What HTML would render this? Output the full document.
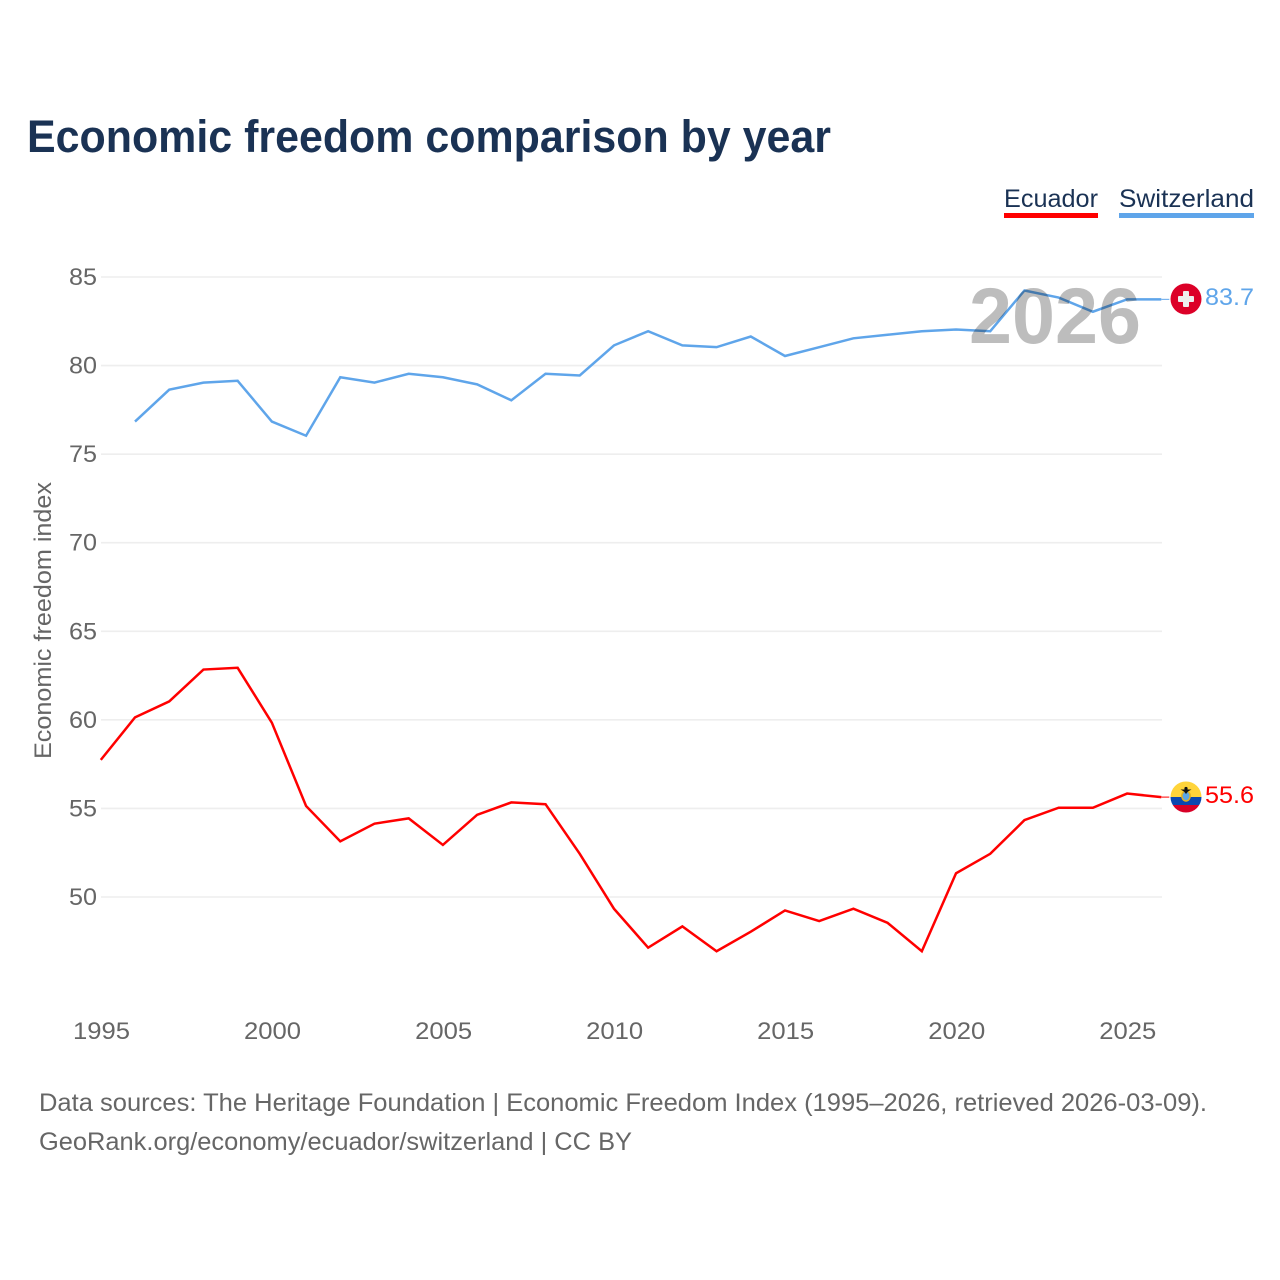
<!DOCTYPE html>
<html lang="en">
<head>
<meta charset="utf-8">
<title>Economic freedom comparison by year</title>
<style>
html,body{margin:0;padding:0;background:#fff;width:1280px;height:1280px;overflow:hidden}
svg{display:block}
text{font-family:"Liberation Sans",sans-serif}
</style>
</head>
<body>
<svg id="chart" xmlns="http://www.w3.org/2000/svg" width="1280" height="1280" viewBox="0 0 1280 1280">
  <rect width="1280" height="1280" fill="#fff"/>
  <text x="27" y="152" font-size="45" font-weight="700" fill="#1a3254" textLength="804" lengthAdjust="spacingAndGlyphs">Economic freedom comparison by year</text>

  <g>
    <text x="1004" y="207" font-size="25" fill="#1a3254" textLength="94" lengthAdjust="spacingAndGlyphs">Ecuador</text>
    <rect x="1004" y="213" width="94" height="5" fill="#ff0000"/>
  </g>
  <g>
    <text x="1119" y="207" font-size="25" fill="#1a3254" textLength="135" lengthAdjust="spacingAndGlyphs">Switzerland</text>
    <rect x="1119" y="213" width="135" height="5" fill="#5fa5ea"/>
  </g>

  <g id="grid"></g>
  <g id="yticks"></g>
  <g id="xticks"></g>
  <text transform="translate(51 759) rotate(-90)" x="0" y="0" font-size="24" fill="#666" textLength="277" lengthAdjust="spacingAndGlyphs">Economic freedom index</text>
  <g id="series" transform="translate(-0.7 -0.7)"></g>

  <text x="969" y="343" font-size="79" font-weight="700" fill="#000" fill-opacity="0.26" textLength="172" lengthAdjust="spacingAndGlyphs">2026</text>

  <g id="flag-switzerland">
    <circle cx="1186" cy="299" r="15.5" fill="#dc0028"/>
    <rect x="1178" y="296" width="16" height="6" rx="1" fill="#eee"/>
    <rect x="1183" y="291" width="6" height="16" rx="1" fill="#eee"/>
  </g>
  <g id="flag-ecuador">
    <clipPath id="ecuador-clip"><circle cx="1186" cy="797" r="15.5"/></clipPath>
    <g clip-path="url(#ecuador-clip)">
      <rect x="1170" y="781" width="32" height="16" fill="#ffd43a"/>
      <rect x="1170" y="797" width="32" height="8" fill="#0b48b0"/>
      <rect x="1170" y="805" width="32" height="9" fill="#d80027"/>
    </g>
    <ellipse cx="1186" cy="796" rx="4.2" ry="5" fill="#5aa5e5" stroke="#e2b020" stroke-width="1.5"/>
    <path d="M1180.5 789.5h11l-3.5 2-2 2.5-2-2.5z" fill="#111"/>
    <circle cx="1186" cy="788.5" r="1.6" fill="#111"/>
  </g>
  <text id="label-switzerland" x="1205" y="305" font-size="24" fill="#5fa5ea" textLength="49" lengthAdjust="spacingAndGlyphs"></text>
  <text id="label-ecuador" x="1205" y="803" font-size="24" fill="#ff0000" textLength="49" lengthAdjust="spacingAndGlyphs"></text>

  <text x="39" y="1111" font-size="25" fill="#666" textLength="1168" lengthAdjust="spacingAndGlyphs">Data sources: The Heritage Foundation | Economic Freedom Index (1995–2026, retrieved 2026-03-09).</text>
  <text x="39" y="1150" font-size="25" fill="#666" textLength="593" lengthAdjust="spacingAndGlyphs">GeoRank.org/economy/ecuador/switzerland | CC BY</text>
</svg>
<script>
const years = [1995,1996,1997,1998,1999,2000,2001,2002,2003,2004,2005,2006,2007,2008,2009,2010,2011,2012,2013,2014,2015,2016,2017,2018,2019,2020,2021,2022,2023,2024,2025,2026];
const ecuadorValues = [57.7,60.1,61.0,62.8,62.9,59.8,55.1,53.1,54.1,54.4,52.9,54.6,55.3,55.2,52.4,49.3,47.1,48.3,46.9,48.0,49.2,48.6,49.3,48.5,46.9,51.3,52.4,54.3,55.0,55.0,55.8,55.6];
const switzerlandValues = [null,76.8,78.6,79.0,79.1,76.8,76.0,79.3,79.0,79.5,79.3,78.9,78.0,79.5,79.4,81.1,81.9,81.1,81.0,81.6,80.5,81.0,81.5,81.7,81.9,82.0,81.9,84.2,83.8,83.0,83.7,83.7];
const yTickLabels = [50,55,60,65,70,75,80,85];
const xTickLabels = [1995,2000,2005,2010,2015,2020,2025];

const NS = 'http://www.w3.org/2000/svg';
const xScale = function (year) { return 101.5 + (year - 1995) * (1162 - 101.5) / 31; };
const yScale = function (value) { return 897 + (value - 50) * (277 - 897) / 35; };

const grid = document.getElementById('grid');
const yTicks = document.getElementById('yticks');
const xTicks = document.getElementById('xticks');
const seriesGroup = document.getElementById('series');

yTickLabels.forEach(function (tick) {
  const line = document.createElementNS(NS, 'line');
  
  
  line.setAttribute('x1', 101);
  line.setAttribute('x2', 1162);
  line.setAttribute('y1', yScale(tick));
  line.setAttribute('y2', yScale(tick));
  line.setAttribute('stroke', '#eeeeee');
  line.setAttribute('stroke-width', 1.6);
  grid.appendChild(line);

  const label = document.createElementNS(NS, 'text');
  
  
  label.setAttribute('x', 97);
  label.setAttribute('y', yScale(tick) + 8);
  label.setAttribute('text-anchor', 'end');
  label.setAttribute('font-size', 24);
  label.setAttribute('fill', '#666');
  label.setAttribute('textLength', 28);
  label.setAttribute('lengthAdjust', 'spacingAndGlyphs');
  label.textContent = tick;
  yTicks.appendChild(label);
});

xTickLabels.forEach(function (tick) {
  const label = document.createElementNS(NS, 'text');
  
  
  label.setAttribute('x', xScale(tick));
  label.setAttribute('y', 1039);
  label.setAttribute('text-anchor', 'middle');
  label.setAttribute('font-size', 24);
  label.setAttribute('fill', '#666');
  label.setAttribute('textLength', 57);
  label.setAttribute('lengthAdjust', 'spacingAndGlyphs');
  label.textContent = tick;
  xTicks.appendChild(label);
});

function linePoints(values) {
  const pts = [];
  values.forEach(function (value, i) {
    if (value !== null) {
      pts.push(xScale(years[i]).toFixed(2) + ',' + yScale(value).toFixed(2));
    }
  });
  return pts.join(' ');
}

const switzerlandLine = document.createElementNS(NS, 'polyline');


switzerlandLine.setAttribute('points', linePoints(switzerlandValues));
switzerlandLine.setAttribute('fill', 'none');
switzerlandLine.setAttribute('stroke', '#5fa5ea');
switzerlandLine.setAttribute('stroke-width', 2.5);
seriesGroup.appendChild(switzerlandLine);

const ecuadorLine = document.createElementNS(NS, 'polyline');


ecuadorLine.setAttribute('points', linePoints(ecuadorValues));
ecuadorLine.setAttribute('fill', 'none');
ecuadorLine.setAttribute('stroke', '#ff0000');
ecuadorLine.setAttribute('stroke-width', 2.5);
seriesGroup.appendChild(ecuadorLine);

const lastSwiss = switzerlandValues[switzerlandValues.length - 1];
const lastEcuador = ecuadorValues[ecuadorValues.length - 1];

const swissConnector = document.createElementNS(NS, 'line');


swissConnector.setAttribute('x1', 1162);
swissConnector.setAttribute('x2', 1170);
swissConnector.setAttribute('y1', yScale(lastSwiss));
swissConnector.setAttribute('y2', yScale(lastSwiss));
swissConnector.setAttribute('stroke', '#5fa5ea');
swissConnector.setAttribute('stroke-width', 1);
seriesGroup.appendChild(swissConnector);

const ecuadorConnector = document.createElementNS(NS, 'line');


ecuadorConnector.setAttribute('x1', 1162);
ecuadorConnector.setAttribute('x2', 1170);
ecuadorConnector.setAttribute('y1', yScale(lastEcuador));
ecuadorConnector.setAttribute('y2', yScale(lastEcuador));
ecuadorConnector.setAttribute('stroke', '#ff0000');
ecuadorConnector.setAttribute('stroke-width', 1);
seriesGroup.appendChild(ecuadorConnector);

document.getElementById('label-switzerland').textContent = lastSwiss.toFixed(1);
document.getElementById('label-ecuador').textContent = lastEcuador.toFixed(1);
</script>
</body>
</html>
